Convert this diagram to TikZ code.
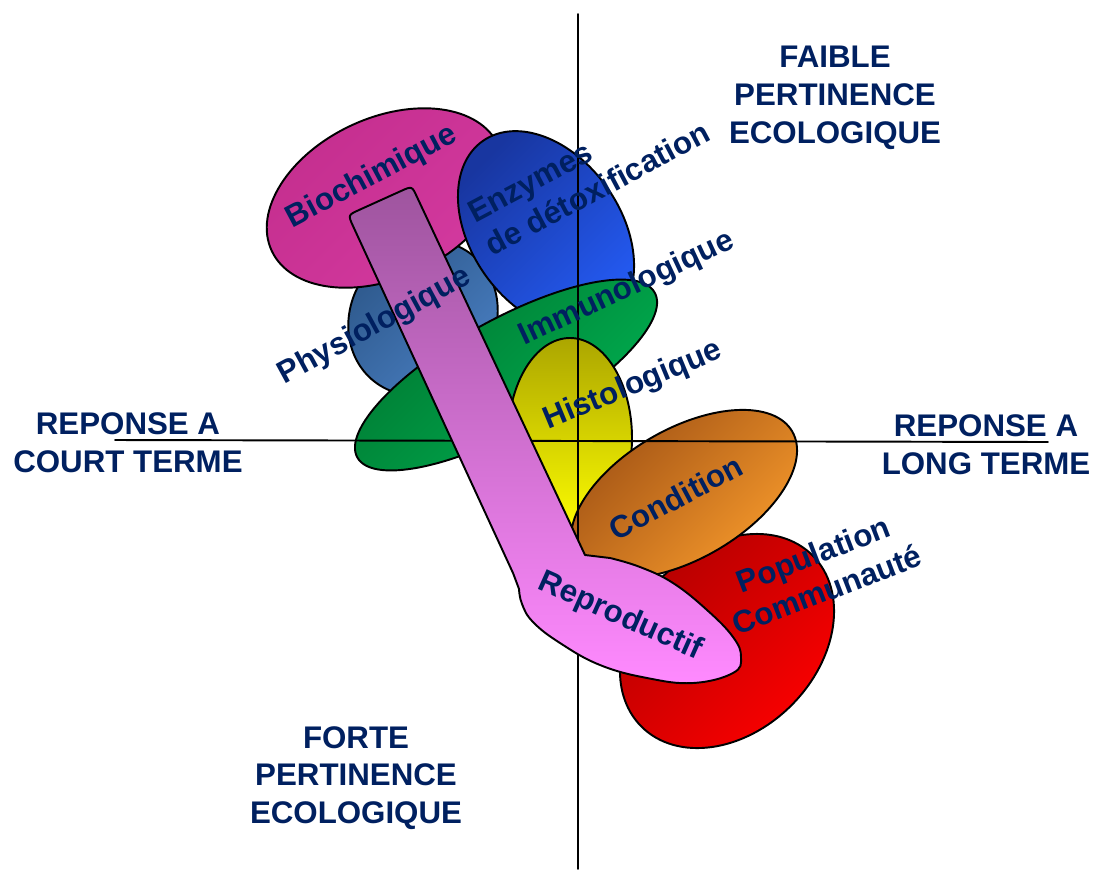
\documentclass[tikz,border=0pt]{standalone}
\usepackage{fontspec}
\setmainfont{Liberation Sans}
\definecolor{navy}{HTML}{002060}
\definecolor{bioA}{RGB}{196,46,142}
\definecolor{bioB}{RGB}{212,58,160}
\definecolor{enzA}{RGB}{24,54,160}
\definecolor{enzB}{RGB}{36,90,242}
\definecolor{phyA}{RGB}{44,86,136}
\definecolor{phyB}{RGB}{74,128,196}
\definecolor{immA}{RGB}{0,118,48}
\definecolor{immB}{RGB}{0,178,82}
\definecolor{hisA}{RGB}{172,166,0}
\definecolor{hisB}{RGB}{255,255,0}
\definecolor{conA}{RGB}{158,80,20}
\definecolor{conB}{RGB}{250,156,44}
\definecolor{popA}{RGB}{176,0,0}
\definecolor{popB}{RGB}{255,0,0}
\definecolor{repA}{RGB}{158,84,158}
\definecolor{repB}{RGB}{255,138,255}
\begin{document}
\begin{tikzpicture}[x=.02cm,y=-.02cm,line join=round,line cap=round,line width=1.1pt,
	font=\fontsize{17.8}{21.5}\selectfont\bfseries,
	blob/.style 2 args={top color=#1,bottom color=#2,draw=black,shading angle=45},
	lbl/.style={text=navy,inner sep=0pt,anchor=base west},
	axis/.style={text=navy,inner sep=0pt,align=center}]
	\useasboundingbox (0,0) rectangle (1094,869);
	\coordinate (phy) at (423,318);
	\coordinate (bio) at (385,198);
	\coordinate (enz) at (546,231);
	\coordinate (imm) at (506,375);
	\coordinate (his) at (570,438);
	\coordinate (pop) at (727,641);
	\coordinate (con) at (684,494);
	\coordinate (N) at (578,14);
	\coordinate (S) at (578,869);
	\coordinate (W) at (115,440);
	\coordinate (E) at (1048,442);
	\shade[blob={phyA}{phyB},rotate around={-35:(phy)}] (phy) ellipse [x radius=72,y radius=80];
	\shade[blob={bioA}{bioB},rotate around={25:(bio)}] (bio) ellipse [x radius=125,y radius=80];
	\shade[blob={enzA}{enzB},rotate around={35:(enz)}] (enz) ellipse [x radius=75,y radius=110];
	\shade[blob={immA}{immB},rotate around={29:(imm)}] (imm) ellipse [x radius=170,y radius=55];
	\shade[blob={hisA}{hisB},shading angle=0] (his) ellipse [x radius=62,y radius=100];
	\shade[blob={popA}{popB},rotate around={45:(pop)}] (pop) ellipse [x radius=121,y radius=91];
	\shade[blob={conA}{conB},rotate around={30:(con)}] (con) ellipse [x radius=125,y radius=65];
	\draw (N)--(S) (W)--(E);
	\shade[blob={repA}{repB},shading angle=0] (513,573) -- (353,226) .. controls (348,215) .. (359,210)
		-- (401,191) .. controls (412,186) .. (417,197) -- (585,555)
		-- plot[smooth,tension=.7] coordinates {(610,558) (640,567) (673,583) (707,610) (733,637) (741,657)
			(733,673) (693,683) (647,678) (600,665) (560,643) (533,622) (522,604) (519,589)} -- cycle;
	\node[lbl,rotate=28] (tbio) at (292,229) {Biochimique};
	\node[lbl,rotate=28,align=left] (tenz) at (492,257) {Enzymes\\de détoxification};
	\node[lbl,rotate=28.5] (tphy) at (284,385) {Physiologique};
	\node[lbl,rotate=25] (timm) at (524,346) {Immunologique};
	\node[lbl,rotate=22.5] (this) at (548,430) {Histologique};
	\node[lbl,rotate=28] (tcon) at (616,542) {Condition};
	\node[lbl,rotate=-24] (trep) at (536,588) {Reproductif};
	\node[lbl,rotate=21,anchor=center,align=center] (tpop) at (820,572) {Population\\Communauté};
	\node[axis] (faible) at (835,98) {FAIBLE\\PERTINENCE\\ECOLOGIQUE};
	\node[axis] (forte) at (356,778) {FORTE\\PERTINENCE\\ECOLOGIQUE};
	\node[axis] (court) at (128,443) {REPONSE A\\COURT TERME};
	\node[axis] (long) at (986,445) {REPONSE A\\LONG TERME};
\end{tikzpicture}
\end{document}
